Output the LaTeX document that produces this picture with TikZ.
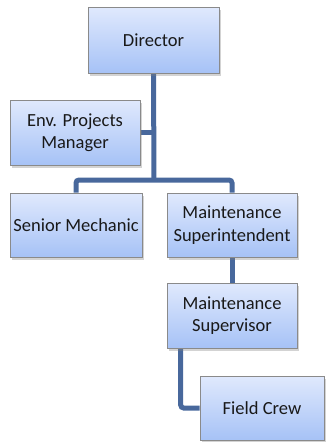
\documentclass[tikz,border=0pt]{standalone}
\usepackage{fontspec}
\setmainfont{Carlito}
\usetikzlibrary{shadows,backgrounds}
\definecolor{boxtop}{HTML}{E0E9FD}
\definecolor{boxbot}{HTML}{A6C2F6}
\definecolor{boxline}{HTML}{8A8A8A}
\definecolor{linkblue}{HTML}{48689C}
\begin{document}
\begin{tikzpicture}[x=1pt,y=-1pt,
  orgbox/.style={draw=boxline, line width=0.6pt, top color=boxtop, bottom color=boxbot,
    minimum width=130pt, minimum height=65pt, align=center, inner sep=2pt,
    font=\fontsize{18.5}{22.5}\selectfont, text=black!90,
    drop shadow={opacity=0.35, shadow xshift=2pt, shadow yshift=-2.5pt}},
  link/.style={draw=linkblue, line width=5pt, rounded corners=3pt}]
  \useasboundingbox (0,0) rectangle (326,442);

  \node[orgbox, minimum width=131pt, minimum height=66pt] (dir) at (153.5,40) {Director};
  \node[orgbox] (env) at (75,132.5) {Env. Projects\\Manager};
  \node[orgbox, minimum width=132pt, minimum height=64pt] (mech) at (76,225) {Senior Mechanic};
  \node[orgbox, minimum height=64pt] (supt) at (232,225) {Maintenance\\Superintendent};
  \node[orgbox] (supv) at (232,315.5) {Maintenance\\Supervisor};
  \node[orgbox, minimum width=124pt, minimum height=64pt] (crew) at (262,408) {Field Crew};

  \coordinate (hub) at (154,180);
  \begin{pgfonlayer}{background}
    \draw[link] (dir.south) -- (hub);
    \draw[link] (env.east) -- (env.east -| dir.south);
    \draw[link] (mech.north) |- (hub) -| (supt.north);
    \draw[link] (supt.south) -- (supv.north);
    \draw[link] ([xshift=14pt]supv.south west) |- (crew.west);
  \end{pgfonlayer}
\end{tikzpicture}
\end{document}
